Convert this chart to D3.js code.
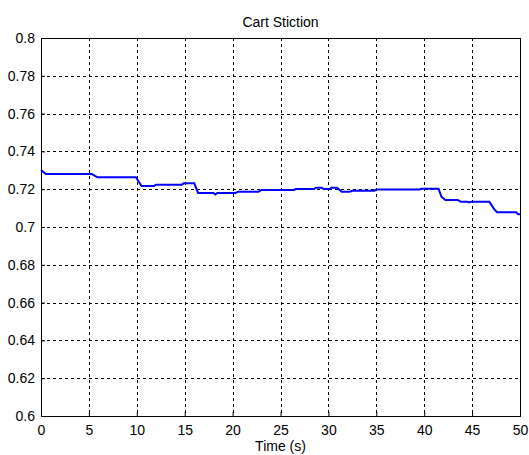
<!DOCTYPE html>
<html>
<head>
<meta charset="utf-8">
<script src="https://cdn.jsdelivr.net/npm/d3@7"></script>
<style>
  body { margin: 0; background: white; }
  text { font-family: "Liberation Sans", Arial, sans-serif; }
</style>
</head>
<body>
<div id="chart"></div>
<script>
// values
let times = [0, 0.5, 5.3, 5.9, 9.9, 10.5, 11.8, 12.0, 14.7, 14.9,
  16.0, 16.4, 18.0, 18.2, 18.4, 20.3, 20.6, 22.7, 23.0, 26.4,
  26.6, 28.5, 28.7, 29.3, 29.5, 30.1, 30.3, 30.9, 31.4, 32.2,
  32.5, 34.8, 35.0, 39.5, 39.7, 41.5, 41.8, 42.2, 43.5, 43.8,
  44.5, 44.7, 44.9, 46.8, 47.3, 47.6, 49.6, 49.8, 50];
let stiction = [0.7302, 0.728, 0.728, 0.7263, 0.7263, 0.7217, 0.7217, 0.7224, 0.7224, 0.7231,
  0.7231, 0.718, 0.718, 0.7172, 0.718, 0.718, 0.7187, 0.7187, 0.7196, 0.7196,
  0.7201, 0.7201, 0.7208, 0.7208, 0.7201, 0.7201, 0.7208, 0.7208, 0.7187, 0.7187,
  0.7192, 0.7192, 0.7198, 0.7198, 0.7203, 0.7203, 0.716, 0.7143, 0.7143, 0.7134,
  0.7134, 0.713, 0.7134, 0.7134, 0.7095, 0.7078, 0.7078, 0.7067, 0.7067];
let xTicks = [0, 5, 10, 15, 20, 25, 30, 35, 40, 45, 50];
let yTicks = [0.6, 0.62, 0.64, 0.66, 0.68, 0.7, 0.72, 0.74, 0.76, 0.78, 0.8];

var margin = { top: 38, right: 9, bottom: 39, left: 41 };
let width = 529 - margin.left - margin.right;
let height = 455 - margin.top - margin.bottom;

var svg = d3
  .select("#chart")
  .append("svg")
  .attr("width", 529)
  .attr("height", 455);

let g = svg.append("g")
  .attr("transform", "translate(" + margin.left + "," + margin.top + ")");

let x = d3.scaleLinear().domain([0, 50]).range([0, width]);
let y = d3.scaleLinear().domain([0.6, 0.8]).range([height, 0]);

// grid
g.append("g")
  .attr("class", "grid")
  .selectAll("line.gx")
  .data(xTicks.slice(1, -1))
  .join("line")
  .attr("x1", (d) => Math.round(x(d)) + 0.5)
  .attr("x2", (d) => Math.round(x(d)) + 0.5)
  .attr("y1", 0)
  .attr("y2", height)
  .attr("stroke", "black")
  .attr("stroke-dasharray", "3,3");

g.append("g")
  .attr("class", "grid")
  .selectAll("line.gy")
  .data(yTicks.slice(1, -1))
  .join("line")
  .attr("y1", (d) => Math.round(y(d)) + 0.5)
  .attr("y2", (d) => Math.round(y(d)) + 0.5)
  .attr("x1", 0)
  .attr("x2", width)
  .attr("stroke", "black")
  .attr("stroke-dasharray", "3,3");

// X axis
let xAxis = g.append("g")
  .attr("transform", "translate(0," + height + ")")
  .call(d3.axisBottom(x).tickValues(xTicks).tickFormat(d3.format("d")).tickSize(-4).tickPadding(9));

// Y axis
let yAxis = g.append("g")
  .call(d3.axisLeft(y).tickValues(yTicks).tickFormat((d) => +d.toFixed(2) + "").tickSize(-4).tickPadding(6));

[xAxis, yAxis].forEach((a) => {
  a.select(".domain").remove();
  a.selectAll("text").attr("fill", "black").style("font-size", "14px");
  a.selectAll("line").attr("stroke", "black");
});

// box
g.append("rect")
  .attr("x", 0.5)
  .attr("y", 0.5)
  .attr("width", width)
  .attr("height", height)
  .attr("fill", "none")
  .attr("stroke", "black");

// line
let line = d3.line()
  .x((d, i) => x(times[i]))
  .y((d) => y(d));

g.append("path")
  .datum(stiction)
  .attr("fill", "none")
  .attr("stroke", "#0000ff")
  .attr("stroke-width", 2)
  .attr("d", line);

// title
svg.append("text")
  .attr("x", margin.left + width / 2)
  .attr("y", 27)
  .attr("text-anchor", "middle")
  .style("font-size", "14px")
  .text("Cart Stiction");

// x label
svg.append("text")
  .attr("x", margin.left + width / 2)
  .attr("y", 451)
  .attr("text-anchor", "middle")
  .style("font-size", "14px")
  .text("Time (s)");
</script>
</body>
</html>
